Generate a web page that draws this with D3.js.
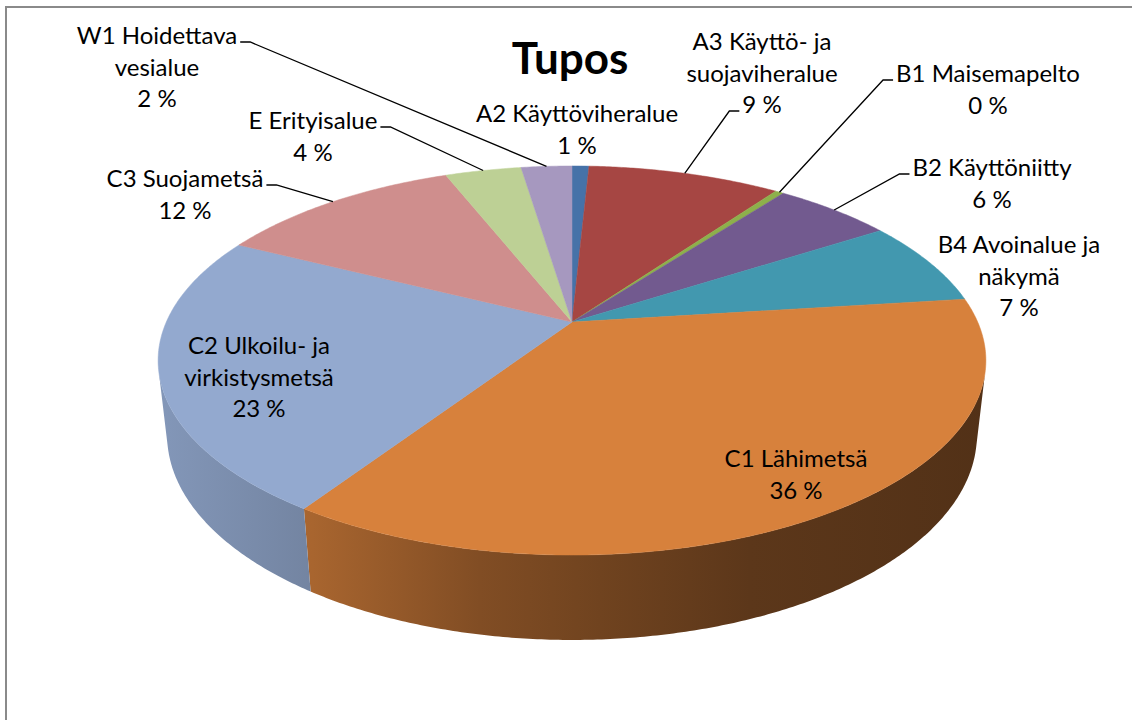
<!DOCTYPE html>
<html>
<head>
<meta charset="utf-8">
<script src="https://cdn.jsdelivr.net/npm/d3@7"></script>
<style>
  html, body { margin: 0; background: #fff; overflow: hidden; }
  svg { display: block; font-family: Lato, "Open Sans", sans-serif; }
</style>
</head>
<body>
<svg id="chart" width="1132" height="720"></svg>
<script>
const title = "Tupos";

const categories = [
  "A2 Käyttöviheralue",
  "A3 Käyttö- ja suojaviheralue",
  "B1 Maisemapelto",
  "B2 Käyttöniitty",
  "B4 Avoinalue ja näkymä",
  "C1 Lähimetsä",
  "C2 Ulkoilu- ja virkistysmetsä",
  "C3 Suojametsä",
  "E Erityisalue",
  "W1 Hoidettava vesialue",
];

// share of area, percent
const shares = [0.8, 9.1, 0.4, 5.6, 7.1, 36.3, 23.1, 11.6, 3.6, 2.4];

const sliceColors = [
  "#4672a8", "#a64643", "#8db04b", "#725a8f", "#4298af",
  "#d7813c", "#93a9cf", "#cf8e8d", "#bdd095", "#a698bf",
];

// how each category name is wrapped in its label
const labelLines = [
  ["A2 Käyttöviheralue"],
  ["A3 Käyttö- ja", "suojaviheralue"],
  ["B1 Maisemapelto"],
  ["B2 Käyttöniitty"],
  ["B4 Avoinalue ja", "näkymä"],
  ["C1 Lähimetsä"],
  ["C2 Ulkoilu- ja", "virkistysmetsä"],
  ["C3 Suojametsä"],
  ["E Erityisalue"],
  ["W1 Hoidettava", "vesialue"],
];

// label layout: centre x, first baseline y, leader (line index + side) or null
const labelLayout = [
  { x: 577, y: 122, leader: null },
  { x: 762, y: 50, leader: { line: 2, side: "start" } },
  { x: 988, y: 82, leader: { line: 0, side: "start" } },
  { x: 992, y: 176, leader: { line: 0, side: "start" } },
  { x: 1019, y: 253, leader: null },
  { x: 796, y: 467, leader: null },
  { x: 259, y: 354, leader: null },
  { x: 185, y: 187, leader: { line: 0, side: "end" } },
  { x: 313, y: 129, leader: { line: 0, side: "end" } },
  { x: 157, y: 44, leader: { line: 0, side: "end" } },
];

const lineHeight = 31.5;

// perspective camera for the 3D pie (unit radius disc)
const view = { cx: 572, cy: 322, focal: 1818.7, dist: 4.483, tilt: Math.asin(0.4607), depth: 0.208 };
const sinT = Math.sin(view.tilt);
const cosT = Math.cos(view.tilt);

function project(theta, h, r = 1) {
  const x = r * Math.sin(theta);
  const z = -r * Math.cos(theta);
  const v = h * cosT - z * sinT;
  const d = view.dist - z * cosT - h * sinT;
  return [view.cx + (view.focal * x) / d, view.cy - (view.focal * v) / d];
}

function arcAngles(a0, a1) {
  const step = Math.PI / 360;
  const out = d3.range(a0, a1, step);
  out.push(a1);
  return out;
}

const svg = d3.select("#chart");
const line = d3.line();

svg.append("rect").attr("width", 1132).attr("height", 720).attr("fill", "#fff");
// chart frame: only the top and left edges fall inside the picture
svg
  .append("path")
  .attr("d", line([[6, 720], [6, 7], [1132, 7]]))
  .attr("fill", "none")
  .attr("stroke", "#8a8a8a")
  .attr("stroke-width", 2);

const pie = d3.pie().sort(null).value((d) => d)(shares);

// side shading ramp, left to right across the pie
const shadeStops = [
  { x: 150, k: 0.9 },
  { x: 313, k: 0.78 },
  { x: 480, k: 0.6 },
  { x: 600, k: 0.52 },
  { x: 750, k: 0.43 },
  { x: 990, k: 0.38 },
];
const defs = svg.append("defs");
pie.forEach((slice, i) => {
  const base = d3.rgb(sliceColors[i]);
  const grad = defs
    .append("linearGradient")
    .attr("id", `side${i}`)
    .attr("gradientUnits", "userSpaceOnUse")
    .attr("x1", 150)
    .attr("x2", 990)
    .attr("y1", 0)
    .attr("y2", 0);
  shadeStops.forEach((s) => {
    grad
      .append("stop")
      .attr("offset", (s.x - 150) / 840)
      .attr("stop-color", d3.rgb(base.r * s.k, base.g * s.k, base.b * s.k).formatHex());
  });
});

// visible outer wall lies between the silhouette generators
const sil0 = Math.acos(-1 / (view.dist * cosT));
const sil1 = 2 * Math.PI - sil0;

const sideLayer = svg.append("g");
const topLayer = svg.append("g");

pie.forEach((slice, i) => {
  const a0 = Math.max(slice.startAngle, sil0);
  const a1 = Math.min(slice.endAngle, sil1);
  if (a1 > a0) {
    const angles = arcAngles(a0, a1);
    const pts = angles.map((a) => project(a, 0)).concat(angles.slice().reverse().map((a) => project(a, -view.depth)));
    sideLayer.append("path").attr("d", line(pts) + "Z").attr("fill", `url(#side${i})`);
  }
  const top = [project(0, 0, 0)].concat(arcAngles(slice.startAngle, slice.endAngle).map((a) => project(a, 0)));
  topLayer
    .append("path")
    .attr("d", line(top) + "Z")
    .attr("fill", sliceColors[i])
    .attr("stroke", sliceColors[i])
    .attr("stroke-width", 0.5);
});

svg
  .append("text")
  .attr("x", 570)
  .attr("y", 74)
  .attr("text-anchor", "middle")
  .attr("font-size", 44)
  .attr("font-weight", "bold")
  .attr("fill", "#000")
  .text(title);

const labelLayer = svg.append("g").attr("font-size", 24).attr("fill", "#000");
const total = d3.sum(shares);

pie.forEach((slice, i) => {
  const layout = labelLayout[i];
  const lines = labelLines[i].concat(`${Math.round((shares[i] / total) * 100)} %`);
  const nodes = lines.map((txt, j) =>
    labelLayer
      .append("text")
      .attr("x", layout.x)
      .attr("y", layout.y + j * lineHeight)
      .attr("text-anchor", "middle")
      .text(txt)
  );
  if (!layout.leader) {
    return;
  }
  const node = nodes[layout.leader.line];
  const w = node.node().getComputedTextLength();
  const ly = layout.y + layout.leader.line * lineHeight - 2;
  const dir = layout.leader.side === "end" ? 1 : -1;
  const x0 = layout.x + dir * (w / 2 + 3);
  const x1 = x0 + dir * 10;
  const end = project((slice.startAngle + slice.endAngle) / 2, 0);
  svg
    .append("path")
    .attr("d", line([[x0, ly], [x1, ly], end]))
    .attr("fill", "none")
    .attr("stroke", "#000")
    .attr("stroke-width", 1.3);
});
</script>
</body>
</html>
